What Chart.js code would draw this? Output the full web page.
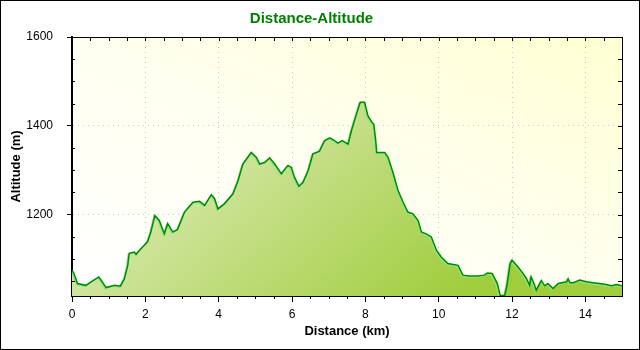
<!DOCTYPE html>
<html lang="en">
<head>
<meta charset="UTF-8">
<title>Distance-Altitude</title>
<script src="https://cdn.jsdelivr.net/npm/chart.js"></script>
<style>
  body { margin: 0; background: #fff; }
  .frame { width: 640px; height: 350px; box-sizing: border-box; border: 1px solid #000; }
  canvas { display: block; }
</style>
</head>
<body>
<div class="frame"><canvas id="profileChart" width="638" height="348"></canvas></div>
<script>
// track profile: distance along the route and altitude at that point
const distanceKm = [0, 0.05, 0.15, 0.38, 0.52, 0.73, 0.79, 0.93, 1.16, 1.32, 1.43, 1.52, 1.56, 1.70, 1.75, 1.84, 1.97, 2.06, 2.15, 2.26,
  2.38, 2.52, 2.61, 2.75, 2.88, 3.07, 3.30, 3.48, 3.62, 3.80, 3.89, 3.98, 4.16, 4.39, 4.53, 4.66, 4.89, 5.03, 5.12, 5.26,
  5.39, 5.53, 5.71, 5.89, 5.98, 6.07, 6.19, 6.30, 6.44, 6.57, 6.75, 6.89, 7.03, 7.16, 7.25, 7.37, 7.53, 7.62, 7.76, 7.86,
  7.98, 8.07, 8.18, 8.23, 8.28, 8.31, 8.53, 8.62, 8.75, 8.89, 9.03, 9.16, 9.30, 9.44, 9.53, 9.66, 9.80, 9.94, 10.07, 10.25,
  10.53, 10.66, 10.84, 11.07, 11.24, 11.33, 11.46, 11.60, 11.68, 11.80, 11.86, 11.95, 12.00, 12.16, 12.30, 12.39, 12.48, 12.52, 12.60, 12.66,
  12.80, 12.89, 12.98, 13.12, 13.26, 13.49, 13.53, 13.58, 13.67, 13.85, 14.03, 14.21, 14.39, 14.57, 14.71, 14.85, 14.94, 15.00];
const altitudeM = [1075, 1068, 1045, 1041, 1049, 1060, 1053, 1036, 1041, 1039, 1056, 1086, 1113, 1116, 1111, 1120, 1131, 1139, 1161, 1198,
  1187, 1157, 1180, 1161, 1167, 1206, 1228, 1230, 1221, 1245, 1236, 1213, 1225, 1247, 1277, 1314, 1340, 1329, 1314, 1318,
  1328, 1314, 1292, 1311, 1307, 1284, 1264, 1273, 1299, 1337, 1343, 1367, 1373, 1367, 1361, 1367, 1359, 1389, 1427, 1453,
  1453, 1423, 1408, 1404, 1370, 1340, 1340, 1329, 1296, 1255, 1228, 1206, 1202, 1187, 1161, 1157, 1150, 1120, 1105, 1090,
  1086, 1064, 1062, 1062, 1064, 1069, 1068, 1045, 1018, 1018, 1040, 1090, 1098, 1083, 1068, 1057, 1041, 1060, 1045, 1030,
  1052, 1040, 1045, 1034, 1045, 1049, 1056, 1047, 1047, 1053, 1049, 1047, 1045, 1043, 1040, 1043, 1041, 1040];

// axis ranges and labelled ticks
const xRange = [0, 15];
const yRange = [1017, 1600];
const xTicks = [0, 2, 4, 6, 8, 10, 12, 14];
const yTicks = [1200, 1400, 1600];
const xMinorStep = 0.5;
const yMinorStep = 50;

const FONT = "'Liberation Sans', Arial, sans-serif";

// plot background, frame and the small unlabelled ticks
const plotFrame = {
  id: 'plotFrame',
  beforeDraw(chart) {
    const { ctx, chartArea: a } = chart;
    // diagonal wash: white in the lower left corner, pale yellow in the upper right
    const W = a.width, H = a.height;
    const s = 2 * W * H / (W * W + H * H);
    const g = ctx.createLinearGradient(a.left, a.bottom, a.left + H * s, a.bottom - W * s);
    g.addColorStop(0, '#ffffff');
    g.addColorStop(0.5, '#fffff0');
    g.addColorStop(1, '#ffffd2');
    ctx.save();
    ctx.fillStyle = g;
    ctx.fillRect(a.left, a.top, a.width, a.height);
    ctx.restore();
  },
  beforeDatasetDraw(chart) {
    // light green edge next to the profile line
    const ctx = chart.ctx;
    ctx.save();
    ctx.shadowColor = '#8ce68c';
    ctx.shadowOffsetX = -1;
    ctx.shadowOffsetY = 1;
    ctx.shadowBlur = 0;
  },
  afterDatasetDraw(chart) {
    chart.ctx.restore();
  },
  afterDraw(chart) {
    const { ctx, chartArea: a, scales: { x, y } } = chart;
    ctx.save();
    ctx.strokeStyle = '#000';
    ctx.lineWidth = 1;
    ctx.beginPath();
    ctx.moveTo(a.left, a.top + 0.5);
    ctx.lineTo(a.right + 1, a.top + 0.5);
    ctx.moveTo(a.right + 0.5, a.top);
    ctx.lineTo(a.right + 0.5, a.bottom);
    for (let v = xRange[0] + xMinorStep; v < xRange[1]; v += xMinorStep) {
      const px = Math.round(x.getPixelForValue(v)) + 0.5;
      ctx.moveTo(px, a.top);
      ctx.lineTo(px, a.top + 4);
      if (v % 2 !== 0) {
        ctx.moveTo(px, a.bottom);
        ctx.lineTo(px, a.bottom + 3);
      }
    }
    for (let v = 1050; v < yRange[1]; v += yMinorStep) {
      const py = Math.round(y.getPixelForValue(v)) + 0.5;
      ctx.moveTo(a.right, py);
      ctx.lineTo(a.right - 4, py);
      if (v % 200 !== 0) {
        ctx.moveTo(a.left - 1, py);
        ctx.lineTo(a.left + 3, py);
      }
    }
    ctx.stroke();
    ctx.restore();
  }
};

const ctx = document.getElementById('profileChart').getContext('2d');
new Chart(ctx, {
  type: 'line',
  data: {
    datasets: [{
      data: distanceKm.map((d, i) => ({ x: d, y: altitudeM[i] })),
      borderColor: '#008a00',
      borderWidth: 1.5,
      pointRadius: 0,
      tension: 0,
      fill: 'start',
      backgroundColor(c) {
        const a = c.chart.chartArea;
        if (!a) return 'rgba(0,0,0,0)';
        const g = c.chart.ctx.createLinearGradient(a.left, a.top, a.left + a.width * 0.55, a.bottom + a.height * 0.3);
        g.addColorStop(0, '#f2f5e4');
        g.addColorStop(1, '#a0cd3c');
        return g;
      }
    }]
  },
  options: {
    responsive: false,
    animation: false,
    layout: { padding: { left: 0, right: 17, top: 0, bottom: 0 } },
    plugins: {
      legend: { display: false },
      tooltip: { enabled: false },
      title: {
        display: true,
        text: 'Distance-Altitude',
        color: '#008000',
        font: { family: FONT, size: 15, weight: 'bold' },
        padding: { top: 9, bottom: 9 }
      }
    },
    scales: {
      x: {
        type: 'linear',
        min: xRange[0],
        max: xRange[1],
        afterBuildTicks: s => { s.ticks = xTicks.map(v => ({ value: v })); },
        afterFit: s => { s.height = 53; },
        ticks: { color: '#000', font: { family: FONT, size: 12 }, padding: 5, maxRotation: 0 },
        grid: {
          color: c => (c.tick && c.tick.value > xRange[0]) ? '#c8c8c8' : 'rgba(0,0,0,0)',
          tickColor: '#000',
          tickLength: 6
        },
        border: { display: true, color: '#000', width: 2, dash: [1, 4] },
        title: {
          display: true,
          text: 'Distance (km)',
          color: '#000',
          font: { family: FONT, size: 13, weight: 'bold' },
          padding: { top: 0, bottom: 10 }
        }
      },
      y: {
        min: yRange[0],
        max: yRange[1],
        afterBuildTicks: s => { s.ticks = yTicks.map(v => ({ value: v })); },
        afterFit: s => { s.width = 71; },
        ticks: {
          color: '#000',
          font: { family: FONT, size: 12 },
          padding: 14,
          callback: v => String(v)
        },
        grid: {
          color: c => (c.tick && c.tick.value < yRange[1]) ? '#c8c8c8' : 'rgba(0,0,0,0)',
          tickColor: '#000',
          tickLength: 5
        },
        border: { display: true, color: '#000', width: 2, dash: [1, 4] },
        title: {
          display: true,
          text: 'Altitude (m)',
          color: '#000',
          font: { family: FONT, size: 13, weight: 'bold' },
          padding: { top: 8, bottom: 0 }
        }
      }
    }
  },
  plugins: [plotFrame]
});
</script>
</body>
</html>
